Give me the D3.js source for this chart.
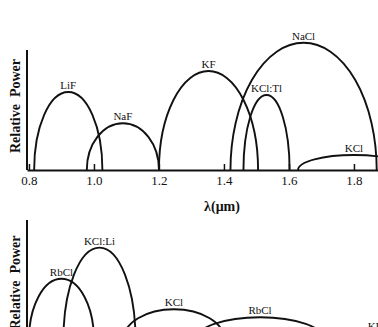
<!DOCTYPE html>
<html>
<head>
<meta charset="utf-8">
<script src="https://cdn.jsdelivr.net/npm/d3@7"></script>
<style>
  body { margin: 0; background: #fff; }
  svg { display: block; overflow: hidden; font-family: "Liberation Serif", "Times New Roman", serif; }
  .band { fill: none; stroke: #111; stroke-width: 1.9; }
  .band-label { font-size: 11px; fill: #111; text-anchor: middle; }
  .axis-title { font-size: 14px; font-weight: bold; fill: #111; white-space: pre; }
  .x-axis path, .y-line { stroke: #111; stroke-width: 2; }
  .x-axis line { stroke: #111; stroke-width: 1.5; }
  .x-axis text { font-size: 13px; fill: #111; font-family: "Liberation Serif", "Times New Roman", serif; }
</style>
</head>
<body>
<div class="grafico"></div>
<script>
// wavelength ticks (µm)
const xTicks = [0.8, 1.0, 1.2, 1.4, 1.6, 1.8];

// upper panel: tuning ranges of the colour-centre lasers
const topNames = ['LiF', 'NaF', 'KF', 'NaCl', 'KCl:Tl', 'KCl'];
const topStart = [0.816, 0.978, 1.200, 1.420, 1.460, 1.628];
const topEnd   = [1.026, 1.200, 1.505, 1.870, 1.602, 1.972];
const topPeak  = [0.65, 0.39, 0.825, 1.06, 0.625, 0.125];

// lower panel
const bottomNames = ['RbCl', 'KCl:Li', 'KCl', 'RbCl', 'KI'];
const bottomStart = [0.800, 0.906, 1.090, 1.312, 1.660];
const bottomEnd   = [1.000, 1.128, 1.402, 1.710, 2.060];
const bottomPeak  = [0.51, 0.77, 0.256, 0.19, 0.06];

function main() {
  const w = 378;
  const h = 327;

  const svg = d3.select('.grafico')
    .append('svg')
    .attr('width', w)
    .attr('height', h);

  /* shared wavelength scale */
  const xScale = d3.scaleLinear()
    .domain([0.794, 1.874])
    .range([27, 378]);

  const panels = [
    { names: topNames, start: topStart, end: topEnd, peak: topPeak, top: 50, base: 170, labelY: 106, xTitle: true },
    { names: bottomNames, start: bottomStart, end: bottomEnd, peak: bottomPeak, top: 220, base: 340, labelY: 282.5, xTitle: false }
  ];

  panels.forEach(p => {
    const yScale = d3.scaleLinear()
      .domain([0, 1])
      .range([p.base, p.top]);

    const bands = p.names.map((n, i) => ({ name: n, start: p.start[i], end: p.end[i], peak: p.peak[i] }));

    const g = svg.append('g');

    /* eje Y (solo la línea) */
    g.append('line')
      .attr('class', 'y-line')
      .attr('x1', xScale.range()[0])
      .attr('x2', xScale.range()[0])
      .attr('y1', p.top)
      .attr('y2', p.base);

    /* eje X (el del panel inferior queda fuera del encuadre, sin etiquetas) */
    const xAxis = d3.axisBottom(xScale)
      .tickValues(xTicks)
      .tickFormat(p.xTitle ? d3.format('.1f') : () => '')
      .tickSizeInner(-6)
      .tickSizeOuter(0)
      .tickPadding(6);

    g.append('g')
      .attr('class', 'x-axis')
      .attr('transform', `translate(0,${p.base})`)
      .call(xAxis);

    /* semi-elipses */
    g.selectAll('.band')
      .data(bands)
      .join('path')
      .attr('class', 'band')
      .attr('d', d => {
        const x0 = xScale(d.start);
        const x1 = xScale(d.end);
        const rx = (x1 - x0) / 2;
        const ry = yScale(0) - yScale(d.peak);
        return `M${x0},${yScale(0)} A${rx},${ry} 0 0 1 ${x1},${yScale(0)}`;
      });

    g.selectAll('.band-label')
      .data(bands)
      .join('text')
      .attr('class', 'band-label')
      .attr('x', d => xScale((d.start + d.end) / 2))
      .attr('y', d => yScale(d.peak) - 3)
      .text(d => d.name);

    /* título eje Y */
    g.append('text')
      .attr('class', 'axis-title')
      .attr('transform', `translate(20,${p.labelY}) rotate(-90)`)
      .attr('text-anchor', 'middle')
      .text('Relative  Power');

    if (p.xTitle) {
      g.append('text')
        .attr('class', 'axis-title')
        .attr('x', 222)
        .attr('y', 210.5)
        .attr('text-anchor', 'middle')
        .text('λ(μm)');
    }
  });
}

main();
</script>
</body>
</html>
